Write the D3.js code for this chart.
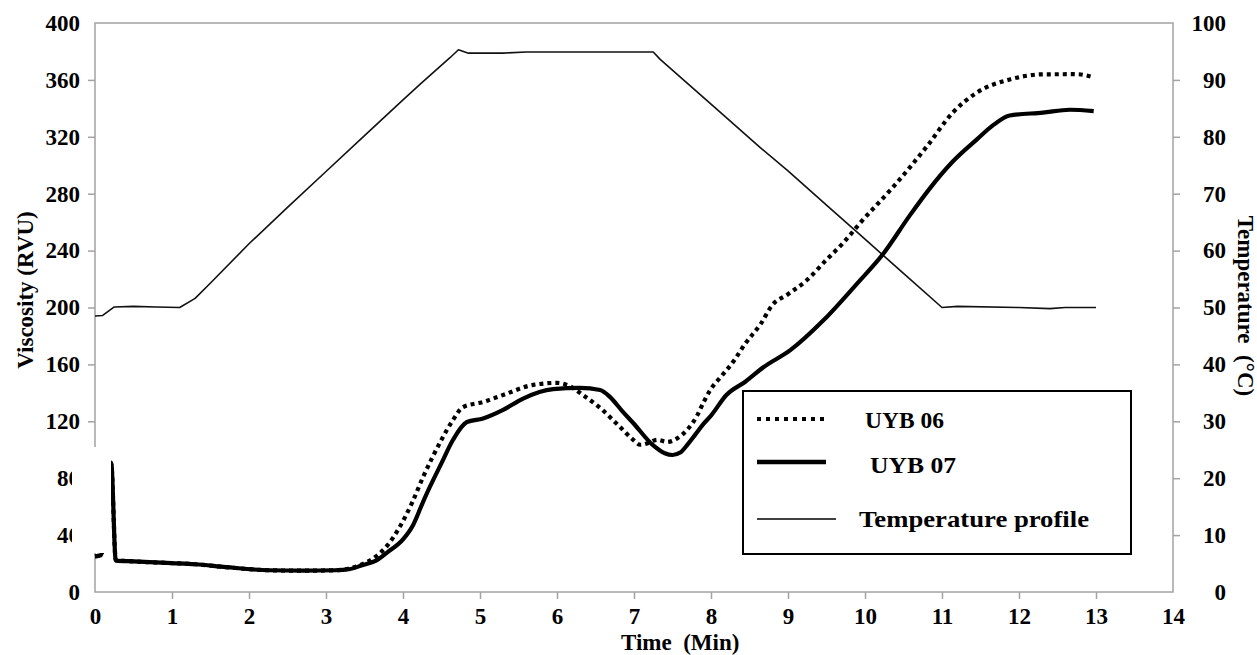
<!DOCTYPE html>
<html>
<head>
<meta charset="utf-8">
<script src="https://cdn.jsdelivr.net/npm/d3@7"></script>
<style>
body { margin: 0; background: #fff; }
text { font-family: "Liberation Serif", "Times New Roman", serif; font-weight: bold; fill: #000; }
</style>
</head>
<body>
<svg id="chart" width="1257" height="655"></svg>
<script>
// time (min), value pairs
var temp_profile = [[0,48.5],[0.1,48.6],[0.25,50.1],[0.5,50.2],[0.8,50.1],[1.1,50.0],[1.3,51.6],[1.5,54.3],
    [2.0,61.2],[2.5,67.6],[3.0,73.9],[3.5,80.2],[4.0,86.5],[4.22,89.2],[4.61,93.9],[4.72,95.3],[4.85,94.7],
    [5.3,94.7],[5.6,94.9],[7.25,94.9],[7.34,93.6],[8.03,85.4],[8.64,78.1],[9.0,74.0],[9.5,68.0],[10.0,62.0],
    [10.5,56.0],[11.0,50.0],[11.2,50.2],[12.0,50.0],[12.4,49.8],[12.6,50.0],[13.0,50.0]];

var uyb06 = [[0,25],[0.08,26],[0.21,90],[0.27,22.5],[0.5,21.5],[1.0,20.3],[1.3,19.5],[1.7,17.5],[2.25,15.3],
    [2.7,15],[3.12,15.3],[3.3,16.5],[3.47,19.5],[3.65,25],[3.8,33],[3.95,45],[4.12,63],[4.26,80.7],[4.5,107],
    [4.65,121],[4.78,130],[5.04,133.6],[5.3,138.5],[5.69,145.6],[6.0,147],[6.13,145.6],[6.35,138],[6.56,129.4],
    [6.8,117],[6.99,107],[7.08,103.5],[7.2,105],[7.3,107],[7.43,105.5],[7.56,108],[7.69,114],[7.82,124],
    [7.9,133],[7.99,142],[8.14,152],[8.29,162],[8.45,175],[8.64,188],[8.8,202],[8.99,209],[9.25,219.5],
    [9.5,233.6],[9.72,245.6],[9.94,259.6],[10.37,285],[10.8,313],[11.14,337],[11.45,351],[11.88,360.3],
    [12.31,363.9],[12.75,364],[12.97,361.8]];

var uyb07 = [[0,25],[0.08,26],[0.21,91],[0.27,22],[0.5,21.5],[1.0,20.3],[1.3,19.5],[1.7,17.5],[2.25,15.3],
    [2.7,15],[3.12,15.3],[3.3,16],[3.47,18.8],[3.65,22],[3.8,28],[4.0,37],[4.13,47],[4.25,62],[4.35,74],
    [4.5,90.6],[4.65,107],[4.83,119.5],[5.04,122],[5.3,128],[5.56,136],[5.95,142.6],[6.3,143.5],[6.56,142],
    [6.69,137],[6.85,127],[6.99,118.8],[7.25,103],[7.4,97.5],[7.5,96.3],[7.6,98],[7.7,104],[7.8,111],
    [7.9,118],[8.0,124],[8.2,138.5],[8.45,148],[8.68,158],[9.03,170],[9.46,191],[9.9,217],[10.24,238],
    [10.58,264.6],[10.84,283.6],[11.14,302.6],[11.45,318],[11.66,328],[11.88,335],[12.31,337],[12.66,339],
    [12.97,338]];

var x_ticks = d3.range(0, 15, 1);
var visc_ticks = d3.range(0, 401, 40);
var temp_ticks = d3.range(0, 101, 10);

var legend_items = [
    {name: "UYB 06", kind: "dot", width: 79},
    {name: "UYB 07", kind: "thick", width: 86},
    {name: "Temperature profile", kind: "thin", width: 230}
];

var plot = {left: 95, right: 1173, top: 23, bottom: 592};
var axis_color = "#a3a3a3";
var font_px = '23px';

var svg = d3.select('#chart');

var x = d3.scaleLinear().domain([0, 14]).range([plot.left, plot.right]);
var y_visc = d3.scaleLinear().domain([0, 400]).range([plot.bottom, plot.top]);
var y_temp = d3.scaleLinear().domain([0, 100]).range([plot.bottom, plot.top]);

// frame
svg.append('rect')
    .attr('x', plot.left).attr('y', plot.top)
    .attr('width', plot.right - plot.left).attr('height', plot.bottom - plot.top)
    .attr('fill', 'none').attr('stroke', axis_color).attr('stroke-width', 1.5);

function style_axis(g, inner){
    g.select('.domain').remove();
    g.selectAll('.tick line').attr('stroke', axis_color).attr('stroke-width', 1.5)
        .attr('display', function(d){ return inner(d) ? null : 'none'; });
    g.selectAll('.tick text').attr('font-size', font_px).attr('fill', '#000');
}

svg.append('g')
    .attr('transform', 'translate(0,' + plot.bottom + ')')
    .call(d3.axisBottom(x).tickValues(x_ticks).tickFormat(d3.format('d')).tickSize(7).tickPadding(9))
    .call(style_axis, function(d){ return d > 0 && d < 14; });

svg.append('g')
    .attr('transform', 'translate(' + plot.left + ',0)')
    .call(d3.axisLeft(y_visc).tickValues(visc_ticks).tickFormat(d3.format('d')).tickSize(7).tickPadding(8))
    .call(style_axis, function(d){ return d > 0 && d < 400; });

var right_axis = svg.append('g')
    .attr('transform', 'translate(' + plot.right + ',0)')
    .call(d3.axisRight(y_temp).tickValues(temp_ticks).tickFormat(d3.format('d')).tickSize(7).tickPadding(8))
    .call(style_axis, function(d){ return d > 0 && d < 100; });
right_axis.selectAll('.tick text').attr('text-anchor', 'end').attr('x', 53);

// curves
var line_visc = d3.line()
    .x(function(d){ return x(d[0]); })
    .y(function(d){ return y_visc(d[1]); })
    .curve(d3.curveMonotoneX);
var line_temp = d3.line()
    .x(function(d){ return x(d[0]); })
    .y(function(d){ return y_temp(d[1]); });

svg.append('path').datum(temp_profile)
    .attr('d', line_temp).attr('fill', 'none').attr('stroke', '#111').attr('stroke-width', 1.6)
    .attr('stroke-linejoin', 'round');
svg.append('path').datum(uyb07)
    .attr('d', line_visc).attr('fill', 'none').attr('stroke', '#000').attr('stroke-width', 4.2)
    .attr('stroke-linejoin', 'round');
svg.append('path').datum(uyb06)
    .attr('d', line_visc).attr('fill', 'none').attr('stroke', '#000').attr('stroke-width', 4.2)
    .attr('stroke-dasharray', '4,4');

// white patch over the lower left axis, as in the source figure
svg.append('rect')
    .attr('x', 72).attr('y', 447).attr('width', 39).attr('height', 106)
    .attr('fill', '#fff');

// axis titles
svg.append('text')
    .attr('transform', 'translate(' + x(7.6) + ',650)')
    .attr('text-anchor', 'middle').attr('font-size', font_px)
    .attr('xml:space', 'preserve')
    .text('Time  (Min)');
svg.append('text')
    .attr('transform', 'translate(33,290) rotate(-90)')
    .attr('text-anchor', 'middle').attr('font-size', font_px)
    .text('Viscosity (RVU)');
svg.append('text')
    .attr('transform', 'translate(1238,306) rotate(90)')
    .attr('text-anchor', 'middle').attr('font-size', font_px)
    .attr('xml:space', 'preserve')
    .text('Temperature  (°C)');

// legend
var legend = svg.append('g').attr('transform', 'translate(743,391)');
legend.append('rect')
    .attr('width', 388).attr('height', 163)
    .attr('fill', '#fff').attr('stroke', '#000').attr('stroke-width', 2);

var item = legend.selectAll('g.item')
    .data(legend_items)
    .enter()
    .append('g')
    .attr('class', 'item')
    .attr('transform', function(d, i){ return 'translate(0,' + [28, 71, 128][i] + ')'; });

item.append('line')
    .attr('x1', 14)
    .attr('x2', function(d){ return d.kind === 'thin' ? 93 : 83; })
    .attr('stroke', '#000')
    .attr('stroke-width', function(d){ return d.kind === 'thin' ? 1.6 : (d.kind === 'thick' ? 4.5 : 4); })
    .attr('stroke-dasharray', function(d){ return d.kind === 'dot' ? '4,5' : null; });

item.append('text')
    .attr('x', function(d, i){ return [122, 127, 116][i]; })
    .attr('y', function(d, i){ return [9, 11, 8][i]; })
    .attr('font-size', '23px')
    .attr('textLength', function(d){ return d.width; })
    .attr('lengthAdjust', 'spacingAndGlyphs')
    .text(function(d){ return d.name; });
</script>
</body>
</html>
